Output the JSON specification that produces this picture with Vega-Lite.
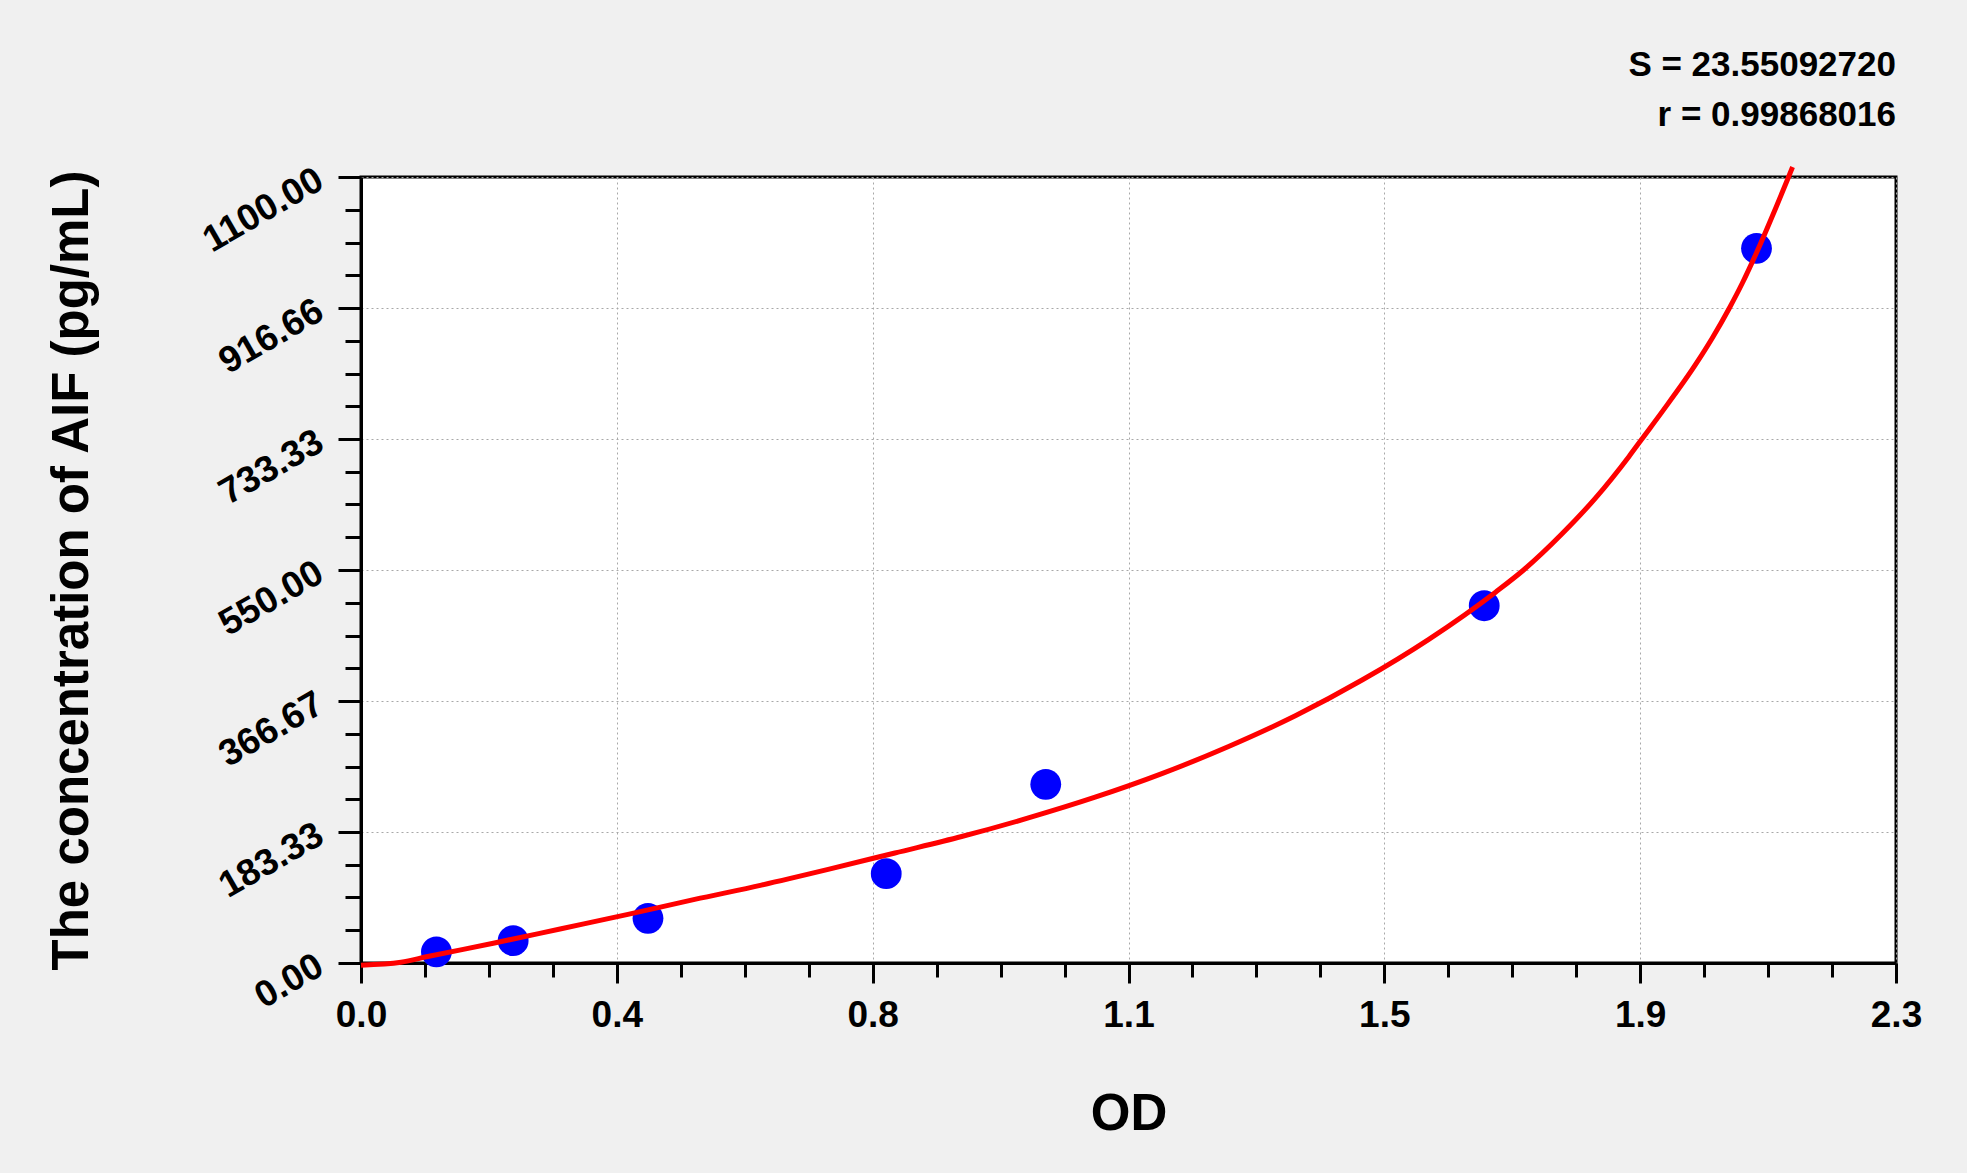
{
  "$schema": "https://vega.github.io/schema/vega-lite/v6.json",
  "description": "Standard curve for AIF: concentration vs OD",
  "autosize": {"type": "none"},
  "width": 1535,
  "height": 786,
  "padding": {"left": 361, "top": 177, "right": 71, "bottom": 210},
  "background": "#f0f0f0",
  "title": {
    "text": "S = 23.55092720",
    "subtitle": "r = 0.99868016",
    "anchor": "end",
    "frame": "group",
    "font": "Liberation Sans",
    "fontSize": 35,
    "fontWeight": "bold",
    "color": "black",
    "subtitleFont": "Liberation Sans",
    "subtitleFontSize": 35,
    "subtitleFontWeight": "bold",
    "subtitleColor": "black",
    "subtitlePadding": 15,
    "offset": 24
  },
  "datasets": {
    "standards": [
      {"od": 0.113, "conc": 15.6},
      {"od": 0.228, "conc": 31.25},
      {"od": 0.43, "conc": 62.5},
      {"od": 0.787, "conc": 125},
      {"od": 1.026, "conc": 250},
      {"od": 1.683, "conc": 500},
      {"od": 2.091, "conc": 1000}
    ],
    "fit": [
      {"od": 0.0, "conc": -3},
      {"od": 0.06, "conc": 1},
      {"od": 0.1, "conc": 9},
      {"od": 0.2, "conc": 28},
      {"od": 0.3, "conc": 48},
      {"od": 0.4, "conc": 68},
      {"od": 0.5, "conc": 89},
      {"od": 0.6, "conc": 109},
      {"od": 0.7, "conc": 131},
      {"od": 0.8, "conc": 154},
      {"od": 0.9, "conc": 177},
      {"od": 1.0, "conc": 203},
      {"od": 1.1, "conc": 232},
      {"od": 1.2, "conc": 265},
      {"od": 1.3, "conc": 303},
      {"od": 1.4, "conc": 346},
      {"od": 1.5, "conc": 396},
      {"od": 1.6, "conc": 453},
      {"od": 1.7, "conc": 519},
      {"od": 1.742, "conc": 550},
      {"od": 1.8, "conc": 601},
      {"od": 1.85, "conc": 651},
      {"od": 1.9, "conc": 709},
      {"od": 1.919, "conc": 733},
      {"od": 1.95, "conc": 772},
      {"od": 2.0, "conc": 838},
      {"od": 2.025, "conc": 875},
      {"od": 2.05, "conc": 916},
      {"od": 2.07, "conc": 952},
      {"od": 2.09, "conc": 992},
      {"od": 2.12, "conc": 1057},
      {"od": 2.139, "conc": 1100},
      {"od": 2.145, "conc": 1114}
    ]
  },
  "encoding": {
    "x": {
      "field": "od",
      "type": "quantitative",
      "scale": {"domain": [0, 2.3], "nice": false, "zero": false},
      "axis": {
        "title": "OD",
        "titleFont": "Liberation Sans",
        "titleFontSize": 51,
        "titleFontWeight": "bold",
        "titleColor": "black",
        "titlePadding": 56,
        "values": [0, 0.095833, 0.191667, 0.2875, 0.383333, 0.479167, 0.575, 0.670833, 0.766667, 0.8625, 0.958333, 1.054167, 1.15, 1.245833, 1.341667, 1.4375, 1.533333, 1.629167, 1.725, 1.820833, 1.916667, 2.0125, 2.108333, 2.204167, 2.3],
        "labelExpr": "abs(datum.value/0.3833333 - round(datum.value/0.3833333)) < 0.01 ? ['0.0','0.4','0.8','1.1','1.5','1.9','2.3'][round(datum.value/0.3833333)] : ''",
        "labelFont": "Liberation Sans",
        "labelFontSize": 37,
        "labelFontWeight": "bold",
        "labelColor": "black",
        "labelPadding": 14,
        "labelOverlap": false,
        "labelFlush": false,
        "domainColor": "black",
        "domainWidth": 3,
        "tickColor": "black",
        "tickWidth": 3,
        "tickSize": {"condition": {"test": "abs(datum.value/0.3833333 - round(datum.value/0.3833333)) < 0.01", "value": 20}, "value": 14},
        "grid": true,
        "gridColor": "#a8a8a8",
        "gridDash": [2, 3],
        "gridWidth": 1,
        "gridOpacity": {"condition": {"test": "abs(datum.value/0.3833333 - round(datum.value/0.3833333)) < 0.01", "value": 1}, "value": 0}
      }
    },
    "y": {
      "field": "conc",
      "type": "quantitative",
      "scale": {"domain": [0, 1100], "nice": false, "zero": false},
      "axis": {
        "title": "The concentration of AIF (pg/mL)",
        "titleFont": "Liberation Sans",
        "titleFontSize": 51,
        "titleFontWeight": "bold",
        "titleColor": "black",
        "titlePadding": 98,
        "values": [0, 45.8333, 91.6667, 137.5, 183.3333, 229.1667, 275, 320.8333, 366.6667, 412.5, 458.3333, 504.1667, 550, 595.8333, 641.6667, 687.5, 733.3333, 779.1667, 825, 870.8333, 916.6667, 962.5, 1008.3333, 1054.1667, 1100],
        "labelExpr": "abs(datum.value/183.33333 - round(datum.value/183.33333)) < 0.01 ? ['0.00','183.33','366.67','550.00','733.33','916.66','1100.00'][round(datum.value/183.33333)] : ''",
        "labelAngle": -30,
        "labelFont": "Liberation Sans",
        "labelFontSize": 37,
        "labelFontWeight": "bold",
        "labelColor": "black",
        "labelPadding": 18,
        "labelOverlap": false,
        "labelFlush": false,
        "domainColor": "black",
        "domainWidth": 3,
        "tickColor": "black",
        "tickWidth": 3,
        "tickSize": {"condition": {"test": "abs(datum.value/183.33333 - round(datum.value/183.33333)) < 0.01", "value": 23}, "value": 16},
        "grid": true,
        "gridColor": "#a8a8a8",
        "gridDash": [2, 3],
        "gridWidth": 1,
        "gridOpacity": {"condition": {"test": "abs(datum.value/183.33333 - round(datum.value/183.33333)) < 0.01", "value": 1}, "value": 0}
      }
    }
  },
  "layer": [
    {
      "data": {"name": "standards"},
      "mark": {"type": "point", "filled": true, "shape": "circle", "size": 950, "color": "#0000ff", "opacity": 1}
    },
    {
      "data": {"name": "fit"},
      "mark": {"type": "line", "color": "#ff0000", "strokeWidth": 5, "interpolate": "monotone"}
    }
  ],
  "config": {
    "view": {"fill": "white", "stroke": "black", "strokeWidth": 3}
  }
}
